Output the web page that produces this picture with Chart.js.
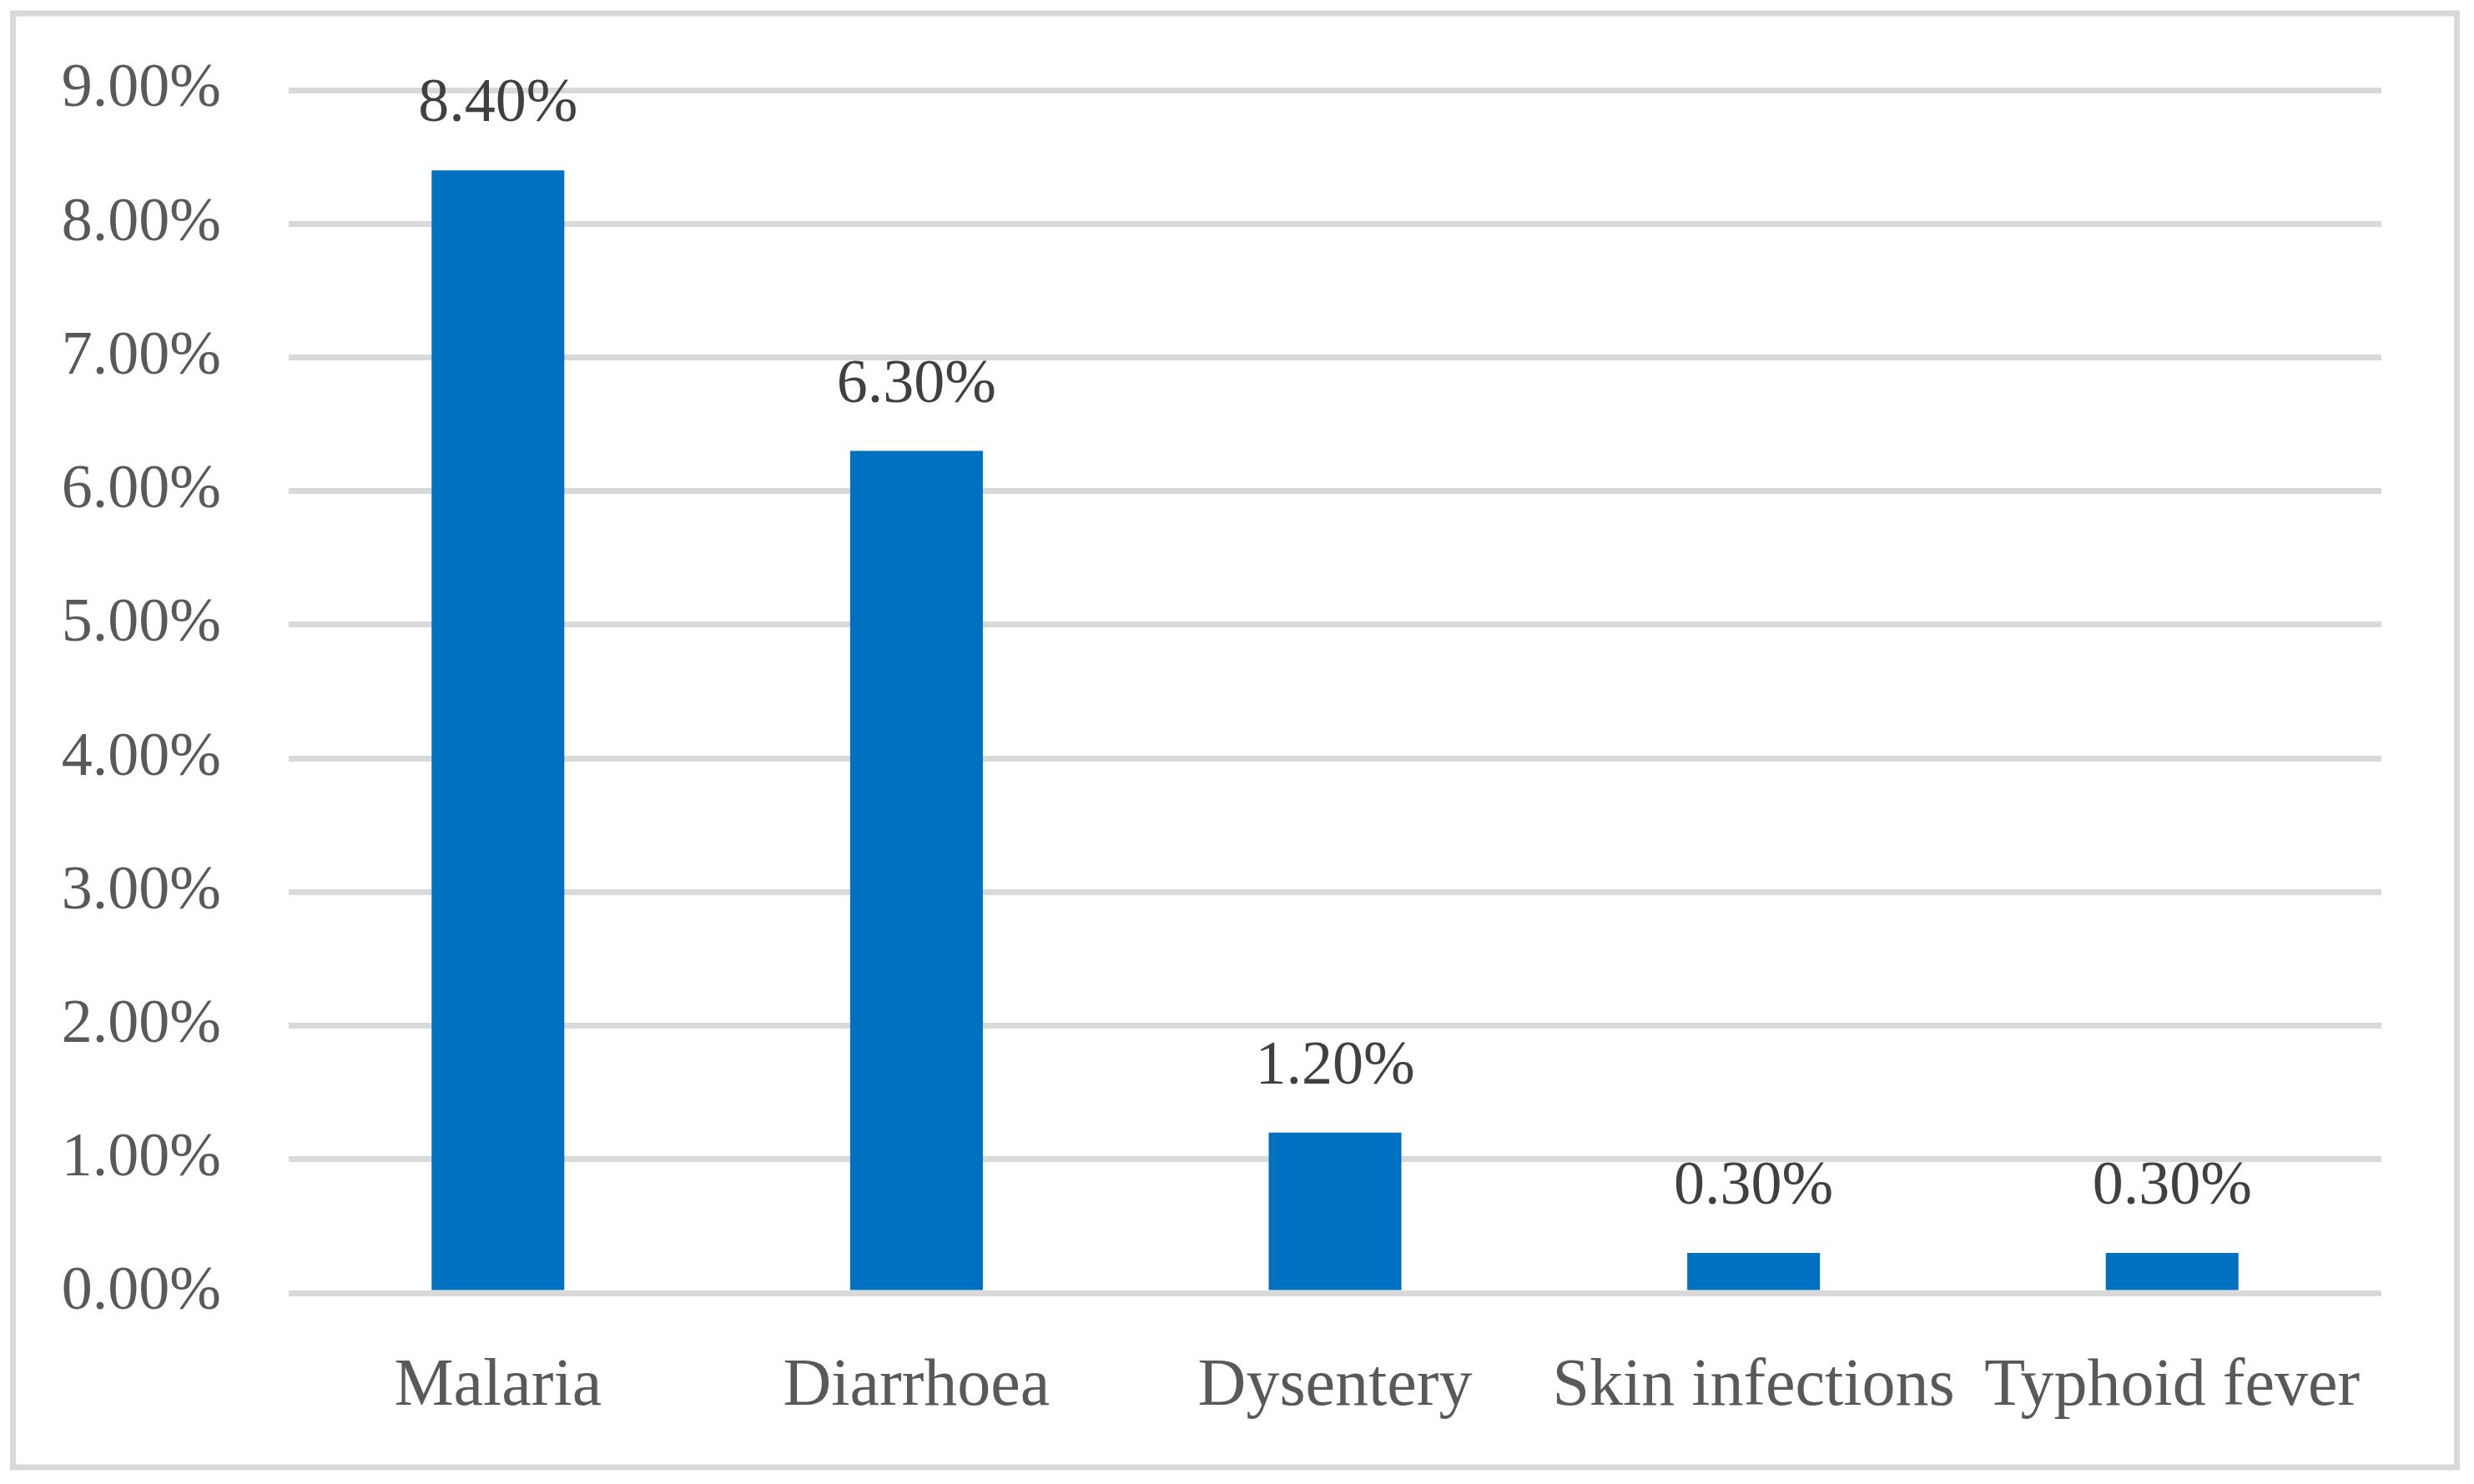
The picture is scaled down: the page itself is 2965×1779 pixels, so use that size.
<!DOCTYPE html>
<html>
<head>
<meta charset="utf-8">
<script src="https://cdn.jsdelivr.net/npm/chart.js@4.4.1/dist/chart.umd.min.js"></script>
<style>
  html, body { margin: 0; padding: 0; background: #fff; }
  #wrap { width: 2965px; height: 1779px; }
</style>
</head>
<body>
<div id="wrap"><canvas id="chart" width="2965" height="1779"></canvas></div>
<script>
const categories = ["Malaria", "Diarrhoea", "Dysentery", "Skin infections", "Typhoid fever"]
const values = [8.4, 6.3, 1.2, 0.3, 0.3]
const yTicks = [0, 1, 2, 3, 4, 5, 6, 7, 8, 9]

const fontFamily = "'Liberation Serif', 'Times New Roman', serif"

// outer frame round the whole chart
const framePlugin = {
  id: "frame",
  beforeDraw(chart) {
    const ctx = chart.ctx
    ctx.save()
    ctx.fillStyle = "#ffffff"
    ctx.fillRect(0, 0, chart.width, chart.height)
    ctx.strokeStyle = "#d9d9d9"
    ctx.lineWidth = 7
    ctx.strokeRect(15.5, 16, 2929, 1743)
    ctx.restore()
  },
}

// value labels above the bars
const valueLabels = {
  id: "valueLabels",
  afterDatasetsDraw(chart) {
    const ctx = chart.ctx
    const meta = chart.getDatasetMeta(0)
    ctx.save()
    ctx.font = "74px " + fontFamily
    ctx.fillStyle = "#404040"
    ctx.textAlign = "center"
    ctx.textBaseline = "alphabetic"
    meta.data.forEach((bar, i) => {
      ctx.fillText(values[i].toFixed(2) + "%", bar.x, bar.y - 59)
    })
    ctx.restore()
  },
}

new Chart(document.getElementById("chart"), {
  type: "bar",
  data: {
    labels: categories,
    datasets: [
      {
        data: values,
        backgroundColor: "#0070c0",
        categoryPercentage: 1,
        barPercentage: 0.317,
      },
    ],
  },
  options: {
    responsive: false,
    animation: false,
    devicePixelRatio: 1,
    layout: {
      padding: { top: 108, right: 111, bottom: 0, left: 0 },
    },
    plugins: {
      legend: { display: false },
      tooltip: { enabled: false },
    },
    scales: {
      x: {
        grid: { display: false },
        border: { display: false },
        ticks: {
          autoSkip: false,
          maxRotation: 0,
          color: "#595959",
          font: { family: fontFamily, size: 80 },
          padding: 57,
        },
        afterFit(scale) {
          scale.height = 229
        },
      },
      y: {
        min: 0,
        max: 9,
        afterBuildTicks(scale) {
          scale.ticks = yTicks.map((v) => ({ value: v }))
        },
        grid: { color: "#d9d9d9", lineWidth: 7, drawTicks: false },
        border: { display: false },
        ticks: {
          color: "#595959",
          font: { family: fontFamily, size: 74 },
          padding: 81,
          callback: (v) => v.toFixed(2) + "%",
        },
        afterFit(scale) {
          scale.width = 346
          // tick padding should not push the plot area down
          scale.paddingTop = 40
          scale.paddingBottom = 40
        },
      },
    },
  },
  plugins: [framePlugin, valueLabels],
})
</script>
</body>
</html>
